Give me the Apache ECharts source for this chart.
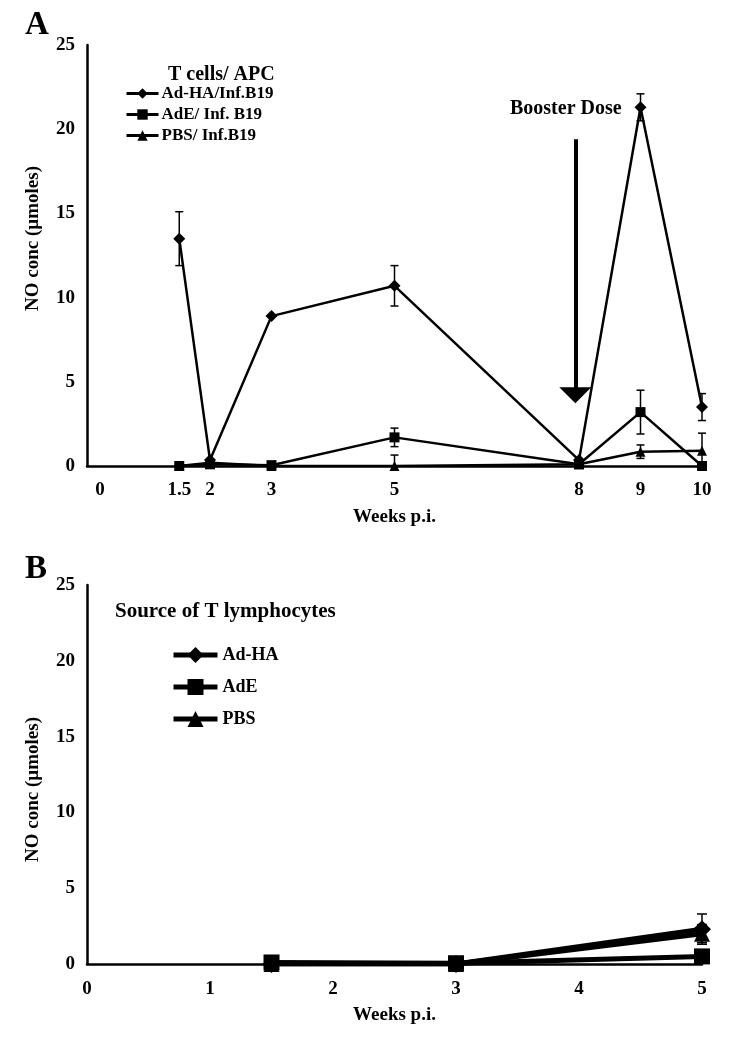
<!DOCTYPE html>
<html>
<head>
<meta charset="utf-8">
<script src="https://cdn.jsdelivr.net/npm/echarts@6/dist/echarts.min.js"></script>
<style>
  html, body { margin: 0; padding: 0; background: #fff; }
  #chart { width: 729px; height: 1050px; }
</style>
</head>
<body>
<div id="chart"></div>
<script>
// panel A - T cells / APC
var weeksA = [1.5, 2, 3, 5, 8, 9, 10]
var xTicksA = [0, 1.5, 2, 3, 5, 8, 9, 10]
var namesA = ['Ad-HA/Inf.B19', 'AdE/ Inf. B19', 'PBS/ Inf.B19']
var adhaA = [13.5, 0.35, 8.9, 10.7, 0.35, 21.3, 3.5]
var adhaErrA = [1.6, null, null, 1.2, null, 0.8, 0.8]
var adeA = [0, 0.1, 0.05, 1.7, 0.1, 3.2, 0]
var adeErrA = [null, null, null, 0.55, null, 1.3, null]
var pbsA = [0, 0.2, 0, 0, 0.1, 0.85, 0.9]
var pbsErrA = [null, null, null, 0.65, null, 0.4, 1.05]

// panel B - source of T lymphocytes
var weeksB = [1.5, 3, 5]
var namesB = ['Ad-HA', 'AdE', 'PBS']
var adhaB = [0, 0, 2.3]
var adhaErrB = [null, null, 1.0]
var adeB = [0.1, 0.05, 0.5]
var adeErrB = [null, null, null]
var pbsB = [0, 0, 2.0]
var pbsErrB = [null, null, 0.6]

var FONT = 'Liberation Serif'
var symbols = ['diamond', 'rect', 'triangle']

function pairs(weeks, vals){
    var out = []
    for (var i = 0; i < weeks.length; i++){
        out.push([weeks[i], vals[i]])
    }
    return out
}

function errData(weeks, vals, errs){
    var out = []
    for (var i = 0; i < weeks.length; i++){
        if (errs[i] == null) continue
        out.push([weeks[i], Math.max(0, vals[i] - errs[i]), vals[i] + errs[i]])
    }
    return out
}

function errSeries(idx, data, cap){
    return {
        type: 'custom',
        xAxisIndex: idx,
        yAxisIndex: idx,
        silent: true,
        z: 1,
        data: data,
        renderItem: function(params, api){
            var x = api.value(0)
            var lo = api.coord([x, api.value(1)])
            var hi = api.coord([x, api.value(2)])
            var st = { stroke: '#000', lineWidth: 1.5 }
            return {
                type: 'group',
                children: [
                    { type: 'line', shape: { x1: lo[0], y1: lo[1], x2: hi[0], y2: hi[1] }, style: st },
                    { type: 'line', shape: { x1: hi[0] - cap, y1: hi[1], x2: hi[0] + cap, y2: hi[1] }, style: st },
                    { type: 'line', shape: { x1: lo[0] - cap, y1: lo[1], x2: lo[0] + cap, y2: lo[1] }, style: st }
                ]
            }
        }
    }
}

function lineSeries(idx, name, sym, data, width, size){
    return {
        name: name,
        type: 'line',
        xAxisIndex: idx,
        yAxisIndex: idx,
        data: data,
        symbol: sym,
        symbolSize: size,
        showAllSymbol: true,
        color: '#000',
        itemStyle: { color: '#000' },
        lineStyle: { color: '#000', width: width },
        z: 3
    }
}

var labelStyle = { color: '#000', fontFamily: FONT, fontWeight: 'bold', fontSize: 19 }

function yAxisOpt(idx, shift){
    return {
        gridIndex: idx,
        type: 'value',
        min: 0, max: 25, interval: 5,
        name: 'NO conc (\u00b5moles)',
        nameLocation: 'middle',
        nameGap: 44,
        nameTextStyle: Object.assign({ padding: shift }, labelStyle),
        axisLine: { show: true, lineStyle: { color: '#000', width: 2.5 } },
        axisTick: { show: false },
        splitLine: { show: false },
        axisLabel: Object.assign({ margin: 12 }, labelStyle)
    }
}

var chart = echarts.init(document.getElementById('chart'), null, { renderer: 'canvas' })

var seriesA = [
    lineSeries(0, namesA[0], symbols[0], pairs(weeksA, adhaA), 2.5, 12),
    lineSeries(0, namesA[1], symbols[1], pairs(weeksA, adeA), 2.5, 10),
    lineSeries(0, namesA[2], symbols[2], pairs(weeksA, pbsA), 2.5, 10)
]
// booster dose arrow
seriesA[0].markLine = {
    silent: true,
    animation: false,
    symbol: ['none', 'triangle'],
    symbolSize: [32, 16],
    lineStyle: { color: '#000', width: 4, type: 'solid' },
    label: { show: false },
    data: [[{ coord: [7.94, 19.4] }, { coord: [7.94, 4.2] }]]
}

var seriesB = [
    lineSeries(1, namesB[0], symbols[0], pairs(weeksB, adhaB), 5, 18),
    lineSeries(1, namesB[1], symbols[1], pairs(weeksB, adeB), 5, 16),
    lineSeries(1, namesB[2], symbols[2], pairs(weeksB, pbsB), 5, 16)
]

var option = {
    animation: false,
    backgroundColor: '#fff',
    title: [
        { text: 'A', left: 20, top: 4, textStyle: { fontFamily: FONT, fontWeight: 'bold', fontSize: 33, color: '#000' } },
        { text: 'B', left: 20, top: 548, textStyle: { fontFamily: FONT, fontWeight: 'bold', fontSize: 33, color: '#000' } },
        { text: 'T cells/ APC', left: 163, top: 60, textStyle: { fontFamily: FONT, fontWeight: 'bold', fontSize: 20, color: '#000' } },
        { text: 'Booster Dose', left: 505, top: 94, textStyle: { fontFamily: FONT, fontWeight: 'bold', fontSize: 20, color: '#000' } },
        { text: 'Source of T lymphocytes', left: 110, top: 596, textStyle: { fontFamily: FONT, fontWeight: 'bold', fontSize: 21, color: '#000' } }
    ],
    legend: [
        {
            data: namesA,
            orient: 'vertical',
            left: 120, top: 80,
            itemWidth: 32, itemHeight: 13, itemGap: 4,
            selectedMode: false,
            lineStyle: { width: 3 },
            textStyle: { fontFamily: FONT, fontWeight: 'bold', fontSize: 17, color: '#000', padding: [0, 0, 0, -2] }
        },
        {
            data: namesB,
            orient: 'vertical',
            left: 166, top: 638,
            itemWidth: 44, itemHeight: 20, itemGap: 8,
            selectedMode: false,
            lineStyle: { width: 5 },
            textStyle: { fontFamily: FONT, fontWeight: 'bold', fontSize: 18, color: '#000', lineHeight: 24 }
        }
    ],
    grid: [
        { left: 87, right: 27, top: 45, height: 421 },
        { left: 87, right: 27, top: 585, height: 379 }
    ],
    xAxis: [
        {
            gridIndex: 0,
            type: 'value',
            min: 0, max: 10,
            name: 'Weeks p.i.',
            nameLocation: 'middle',
            nameGap: 42,
            nameTextStyle: labelStyle,
            axisLine: { show: true, lineStyle: { color: '#000', width: 2.5 } },
            axisTick: { show: false },
            splitLine: { show: false },
            axisLabel: Object.assign({
                margin: 15,
                customValues: xTicksA,
                formatter: function(v){ return v === 0 ? '{z|0}' : String(v) },
                rich: { z: Object.assign({ padding: [0, 0, 0, 26] }, labelStyle) }
            }, labelStyle)
        },
        {
            gridIndex: 1,
            type: 'value',
            min: 0, max: 5, interval: 1,
            name: 'Weeks p.i.',
            nameLocation: 'middle',
            nameGap: 42,
            nameTextStyle: labelStyle,
            axisLine: { show: true, lineStyle: { color: '#000', width: 2.5 } },
            axisTick: { show: false },
            splitLine: { show: false },
            axisLabel: Object.assign({ margin: 16 }, labelStyle)
        }
    ],
    yAxis: [yAxisOpt(0, [0, 0, 0, 34]), yAxisOpt(1, [0, 30, 0, 0])],
    series: seriesA.concat([
        errSeries(0, errData(weeksA, adhaA, adhaErrA), 4),
        errSeries(0, errData(weeksA, adeA, adeErrA), 4),
        errSeries(0, errData(weeksA, pbsA, pbsErrA), 4)
    ]).concat(seriesB).concat([
        errSeries(1, errData(weeksB, adhaB, adhaErrB), 5),
        errSeries(1, errData(weeksB, adeB, adeErrB), 5),
        errSeries(1, errData(weeksB, pbsB, pbsErrB), 5)
    ])
}

chart.setOption(option)
</script>
</body>
</html>
